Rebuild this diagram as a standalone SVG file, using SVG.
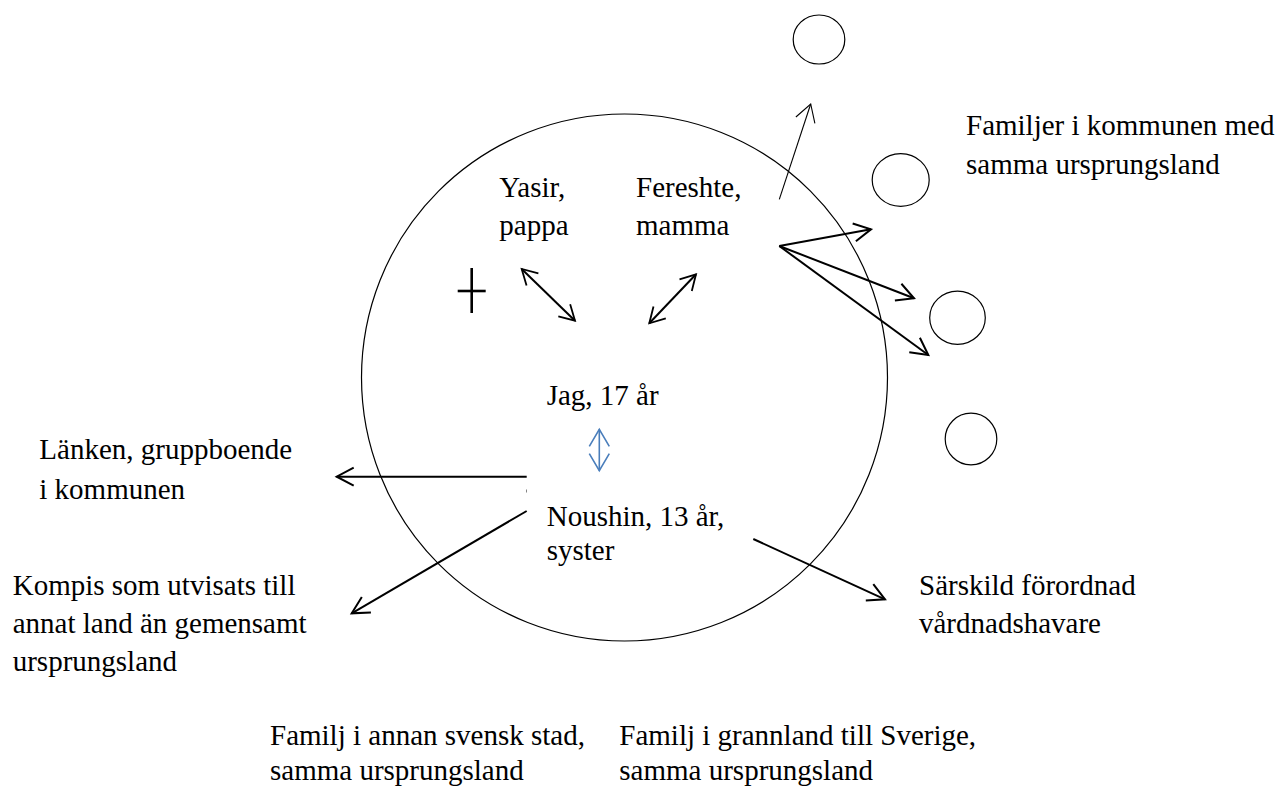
<svg xmlns="http://www.w3.org/2000/svg" width="1281" height="792" viewBox="0 0 1281 792">
<style>
  text { font-family: "Liberation Serif", "Times New Roman", serif; font-size: 29px; fill: #000; }
  .ring { fill: none; stroke: #000; stroke-width: 1.2; }
  .conn { fill: none; stroke: #000; stroke-width: 2; }
  .thin { fill: none; stroke: #000; stroke-width: 1.1; }
  .blue { fill: none; stroke: #4a7ebb; stroke-width: 1.6; }
</style>
<defs>
  <marker id="ah" markerUnits="userSpaceOnUse" markerWidth="40" markerHeight="40" viewBox="-20 -20 40 40" refX="0" refY="0" orient="auto-start-reverse" overflow="visible">
    <path d="M-17,-9 L0,0 L-17,9" fill="none" stroke="#000" stroke-width="2"/>
  </marker>
  <marker id="ah-s" markerUnits="userSpaceOnUse" markerWidth="40" markerHeight="40" viewBox="-20 -20 40 40" refX="0" refY="0" orient="auto-start-reverse" overflow="visible">
    <path d="M-15,-8.5 L0,0 L-15,8.5" fill="none" stroke="#000" stroke-width="1.8"/>
  </marker>
  <marker id="ah-thin" markerUnits="userSpaceOnUse" markerWidth="40" markerHeight="40" viewBox="-20 -20 40 40" refX="0" refY="0" orient="auto-start-reverse" overflow="visible">
    <path d="M-17,-10 L0,0 L-17,10" fill="none" stroke="#000" stroke-width="1.1"/>
  </marker>
  <marker id="ah-blue" markerUnits="userSpaceOnUse" markerWidth="40" markerHeight="40" viewBox="-20 -20 40 40" refX="0" refY="0" orient="auto-start-reverse" overflow="visible">
    <path d="M-17,-10 L0,0 L-17,10" fill="none" stroke="#4a7ebb" stroke-width="1.6"/>
  </marker>
</defs>

<g id="main-circle">
  <ellipse class="ring" cx="624.5" cy="377.5" rx="263" ry="263.5"/>
</g>

<g id="small-circles">
  <ellipse id="circle-1" class="ring" cx="819" cy="39.5" rx="25.8" ry="24.5"/>
  <ellipse id="circle-2" class="ring" cx="900.7" cy="180" rx="28.5" ry="26.3"/>
  <ellipse id="circle-3" class="ring" cx="957.5" cy="317.7" rx="27.8" ry="26.6"/>
  <ellipse id="circle-4" class="ring" cx="971" cy="439" rx="25.8" ry="25.8"/>
</g>

<g id="cross">
  <line x1="471.7" y1="268" x2="471.7" y2="313" stroke="#000" stroke-width="2.6"/>
  <line x1="457.7" y1="291" x2="485.7" y2="291" stroke="#000" stroke-width="2.6"/>
</g>

<g id="connectors">
  <line class="conn" x1="521.7" y1="269" x2="575" y2="320.7" marker-start="url(#ah-s)" marker-end="url(#ah-s)"/>
  <line class="conn" x1="696" y1="274.3" x2="649.3" y2="323.3" marker-start="url(#ah-s)" marker-end="url(#ah-s)"/>
  <line class="blue" x1="599.3" y1="429.3" x2="599.3" y2="470.7" marker-start="url(#ah-blue)" marker-end="url(#ah-blue)"/>
  <line class="thin" x1="779.3" y1="199.3" x2="810.7" y2="104" marker-end="url(#ah-thin)"/>
  <line class="conn" x1="779.3" y1="246" x2="871" y2="229.3" marker-end="url(#ah)"/>
  <line class="conn" x1="779.3" y1="246" x2="914" y2="298.3" marker-end="url(#ah)"/>
  <line class="conn" x1="779.3" y1="246" x2="928.3" y2="355" marker-end="url(#ah)"/>
  <line class="conn" x1="526.7" y1="476.7" x2="336.7" y2="476.7" marker-end="url(#ah)"/>
  <line class="conn" x1="526.7" y1="511" x2="351.7" y2="613.3" marker-end="url(#ah)"/>
  <line class="conn" x1="753.3" y1="539" x2="885" y2="599.3" marker-end="url(#ah)"/>
  <line x1="526.5" y1="489.5" x2="526.5" y2="492.5" stroke="#666" stroke-width="0.8"/>
</g>

<g id="node-yasir">
  <text x="499.3" y="196.7">Yasir,</text>
  <text x="499.3" y="235">pappa</text>
</g>
<g id="node-fereshte">
  <text x="636" y="196.7">Fereshte,</text>
  <text x="636" y="235">mamma</text>
</g>
<g id="node-jag">
  <text x="546.7" y="405">Jag, 17 år</text>
</g>
<g id="node-noushin">
  <text x="546.7" y="526">Noushin, 13 år,</text>
  <text x="546.7" y="559.5">syster</text>
</g>
<g id="node-familjer-kommunen">
  <text x="966" y="135">Familjer i kommunen med</text>
  <text x="966" y="174">samma ursprungsland</text>
</g>
<g id="node-lanken">
  <text x="39.3" y="459.3">Länken, gruppboende</text>
  <text x="39.3" y="499.3">i kommunen</text>
</g>
<g id="node-kompis">
  <text x="12.7" y="595">Kompis som utvisats till</text>
  <text x="12.7" y="633.3">annat land än gemensamt</text>
  <text x="12.7" y="670.7">ursprungsland</text>
</g>
<g id="node-sarskild">
  <text x="919" y="595">Särskild förordnad</text>
  <text x="919" y="633">vårdnadshavare</text>
</g>
<g id="node-familj-stad">
  <text x="270" y="745">Familj i annan svensk stad,</text>
  <text x="270" y="780">samma ursprungsland</text>
</g>
<g id="node-familj-grannland">
  <text x="619.3" y="745">Familj i grannland till Sverige,</text>
  <text x="619.3" y="780">samma ursprungsland</text>
</g>
</svg>
